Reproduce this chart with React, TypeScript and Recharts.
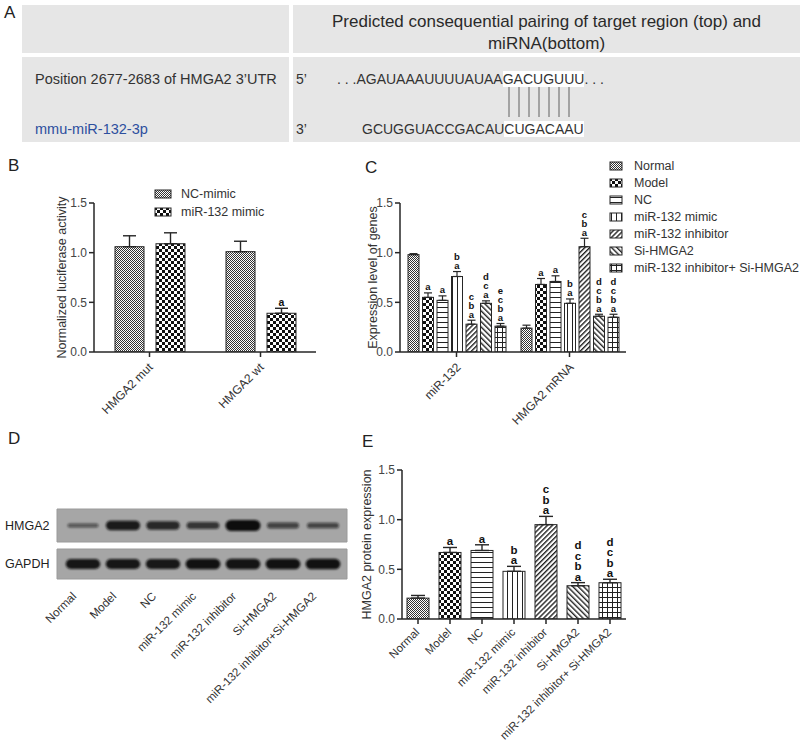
import React from 'react';
import {
  BarChart,
  Bar,
  ErrorBar,
  Cell,
  XAxis,
  YAxis,
  Label,
  Legend,
  ScatterChart,
  Scatter,
  ReferenceArea,
} from 'recharts';

const FONT = '"Liberation Sans", Arial, Helvetica, sans-serif';
const INK = '#262626';
const TXT = '#333';
const CELL_BG = '#e6e6e6';

// B: luciferase reporter
const lucCategories = ['HMGA2 mut', 'HMGA2 wt'];
const lucSeries = ['NC-mimic', 'miR-132 mimic'];
const lucValues = [
  [1.06, 1.01],
  [1.09, 0.39],
];
const lucErrors = [
  [0.11, 0.105],
  [0.11, 0.05],
];
const lucLetters = [
  ['', ''],
  ['', 'a'],
];

// C: qPCR, one series per group
const geneCategories = ['miR-132', 'HMGA2 mRNA'];
const groups = [
  'Normal',
  'Model',
  'NC',
  'miR-132 mimic',
  'miR-132 inhibitor',
  'Si-HMGA2',
  'miR-132 inhibitor+ Si-HMGA2',
];
const geneValues = [
  [0.98, 0.24],
  [0.55, 0.68],
  [0.52, 0.71],
  [0.76, 0.49],
  [0.28, 1.06],
  [0.49, 0.36],
  [0.26, 0.35],
];
const geneErrors = [
  [0.01, 0.03],
  [0.045, 0.06],
  [0.045, 0.057],
  [0.05, 0.044],
  [0.04, 0.085],
  [0.025, 0.02],
  [0.027, 0.03],
];
const geneLetters = [
  ['', ''],
  ['a', 'a'],
  ['a', 'a'],
  ['ba', 'ba'],
  ['cba', 'cba'],
  ['dca', 'dcba'],
  ['ecba', 'dcba'],
];

// D: western blot band strength (0..1)
const lanes = [
  'Normal',
  'Model',
  'NC',
  'miR-132 mimic',
  'miR-132 inhibitor',
  'Si-HMGA2',
  'miR-132 inhibitor+Si-HMGA2',
];
const hmga2Bands = [0.2, 0.85, 0.7, 0.55, 1.0, 0.4, 0.38];
const gapdhBands = [0.9, 0.9, 0.88, 0.95, 0.92, 0.95, 0.95];

// E: protein quantification
const proteinValues = [0.21, 0.67, 0.69, 0.48, 0.95, 0.335, 0.365];
const proteinErrors = [0.027, 0.05, 0.057, 0.05, 0.083, 0.031, 0.035];
const proteinLetters = ['', 'a', 'a', 'ba', 'cba', 'dcba', 'dcba'];

const GROUP_FILLS = ['pNormal', 'pModel', 'pNC', 'pMimic', 'pInhib', 'pSi', 'pCombo'];
const LUC_FILLS = ['pNormal', 'pModel'];

const lucData = lucCategories.map((name, i) => {
  const row: any = { name };
  lucSeries.forEach((_, j) => {
    row[`v${j}`] = lucValues[j][i];
    row[`e${j}`] = [0, lucErrors[j][i]];
    row[`l${j}`] = lucLetters[j][i];
  });
  return row;
});

const geneData = geneCategories.map((name, i) => {
  const row: any = { name };
  groups.forEach((_, j) => {
    row[`v${j}`] = geneValues[j][i];
    row[`e${j}`] = [0, geneErrors[j][i]];
    row[`l${j}`] = geneLetters[j][i];
  });
  return row;
});

const proteinData = groups.map((name, i) => ({
  name,
  v: proteinValues[i],
  e: [0, proteinErrors[i]],
  l: proteinLetters[i],
}));

// svg patterns shared by all charts
const Patterns = () => (
  <svg width={0} height={0} style={{ position: 'absolute' }}>
    <defs>
      <pattern id="pNormal" width={2} height={2} patternUnits="userSpaceOnUse">
        <rect width={2} height={2} fill="#fff" />
        <rect width={1} height={1} fill="#333" />
        <rect x={1} y={1} width={1} height={1} fill="#333" />
      </pattern>
      <pattern id="pModel" width={6} height={6} patternUnits="userSpaceOnUse">
        <rect width={6} height={6} fill="#fff" />
        <rect width={3} height={3} fill="#111" />
        <rect x={3} y={3} width={3} height={3} fill="#111" />
      </pattern>
      <pattern id="pNC" width={4} height={5} patternUnits="userSpaceOnUse">
        <rect width={4} height={5} fill="#fff" />
        <rect y={2} width={4} height={1} fill="#222" />
      </pattern>
      <pattern id="pMimic" width={5} height={4} patternUnits="userSpaceOnUse">
        <rect width={5} height={4} fill="#fff" />
        <rect x={2} width={1} height={4} fill="#222" />
      </pattern>
      <pattern id="pInhib" width={3.5} height={4} patternUnits="userSpaceOnUse" patternTransform="rotate(45)">
        <rect width={3.5} height={4} fill="#fff" />
        <rect width={1.4} height={4} fill="#222" />
      </pattern>
      <pattern id="pSi" width={3.8} height={4} patternUnits="userSpaceOnUse" patternTransform="rotate(-45)">
        <rect width={3.8} height={4} fill="#fff" />
        <rect width={1.4} height={4} fill="#222" />
      </pattern>
      <pattern id="pCombo" width={5} height={5} patternUnits="userSpaceOnUse">
        <rect width={5} height={5} fill="#fff" />
        <rect y={2} width={5} height={1} fill="#222" />
        <rect x={2} width={1} height={5} fill="#222" />
      </pattern>
      <filter id="blotBlur" x="-20%" y="-60%" width="140%" height="220%">
        <feGaussianBlur stdDeviation={1.1} />
      </filter>
    </defs>
  </svg>
);

// bar with outline + stacked significance letters above its error bar
const barShape = (valKey: string, errKey: string, letKey: string, size: number, step: number, lift: number) =>
  (p: any) => {
    const { x, y, width, height, fill, payload } = p;
    const v = payload[valKey];
    const err = (payload[errKey] || [0, 0])[1];
    const letters: string = payload[letKey] || '';
    const ppu = v ? height / v : 0;
    const top = y - err * ppu - lift;
    const cx = x + width / 2;
    return (
      <g>
        <rect x={x} y={y} width={width} height={height} fill={fill} stroke={INK} strokeWidth={1} />
        {letters.split('').map((c, k) => (
          <text
            key={k}
            x={cx}
            y={top - (letters.length - 1 - k) * step}
            textAnchor="middle"
            fontSize={size}
            fontWeight="bold"
            fill="#111"
            fontFamily={FONT}
          >
            {c}
          </text>
        ))}
      </g>
    );
  };

const SlantTick = (props: any) => {
  const { x, y, payload, dx = 4, dy = 9, size = 12, labels } = props;
  const px = x + dx;
  const py = y + dy;
  const text = labels ? labels[payload.value] : payload.value;
  return (
    <text
      x={px}
      y={py}
      textAnchor="end"
      transform={`rotate(-45 ${px} ${py})`}
      fontSize={size}
      fill={TXT}
      fontFamily={FONT}
    >
      {text}
    </text>
  );
};

const RowTick = (props: any) => (
  <text x={5} y={props.y} dy={4} fontSize={12.5} fill="#222" fontFamily={FONT}>
    {props.payload.value}
  </text>
);

const yTitle = (text: string, gap: number) => (p: any) => {
  const vb = p.viewBox;
  const x = vb.x + vb.width - gap;
  const y = vb.y + vb.height / 2;
  return (
    <text
      x={x}
      y={y}
      transform={`rotate(-90 ${x} ${y})`}
      textAnchor="middle"
      dominantBaseline="central"
      fontSize={12.5}
      fill={TXT}
      fontFamily={FONT}
    >
      {text}
    </text>
  );
};

const legendContent = (names: string[], fills: string[], iconW: number, rowH: number, gap: number) => () => (
  <div style={{ fontFamily: FONT }}>
    {names.map((n, i) => (
      <div key={n} style={{ display: 'flex', alignItems: 'center', height: rowH }}>
        <svg width={iconW + 2} height={10}>
          <rect x={1} y={1} width={iconW} height={8} fill={`url(#${fills[i]})`} stroke={INK} />
        </svg>
        <span style={{ marginLeft: gap, fontSize: 12.5, color: TXT, whiteSpace: 'nowrap' }}>{n}</span>
      </div>
    ))}
  </div>
);

const yTicks = [0, 0.5, 1, 1.5];
const tickStyle = { fontSize: 12, fill: '#444', fontFamily: FONT };

const LuciferaseChart = () => (
  <BarChart
    width={330}
    height={270}
    data={lucData}
    margin={{ top: 53, right: 14, bottom: 0, left: 54 }}
    barGap={12}
  >
    <XAxis
      dataKey="name"
      height={68}
      interval={0}
      tickSize={5}
      axisLine={{ stroke: INK, strokeWidth: 1.5 }}
      tickLine={{ stroke: INK, strokeWidth: 1.5 }}
      tick={<SlantTick dx={4} dy={9} />}
    />
    <YAxis
      width={40}
      domain={[0, 1.5]}
      allowDataOverflow
      ticks={yTicks}
      tickFormatter={(v: number) => v.toFixed(1)}
      tickSize={5}
      axisLine={{ stroke: INK, strokeWidth: 1.5 }}
      tickLine={{ stroke: INK, strokeWidth: 1.5 }}
      tick={tickStyle}
    >
      <Label content={yTitle('Normalized luciferase activity', 32)} />
    </YAxis>
    <Legend
      layout="vertical"
      align="center"
      verticalAlign="middle"
      wrapperStyle={{ left: 154, top: 35, width: 'auto' }}
      content={legendContent(lucSeries, LUC_FILLS, 16, 18, 9)}
    />
    {lucSeries.map((s, j) => (
      <Bar
        key={s}
        dataKey={`v${j}`}
        name={s}
        fill={`url(#${LUC_FILLS[j]})`}
        barSize={29}
        isAnimationActive={false}
        shape={barShape(`v${j}`, `e${j}`, `l${j}`, 10.5, 9, 2.5)}
      >
        <ErrorBar dataKey={`e${j}`} width={6.5} strokeWidth={1.4} stroke={INK} direction="y" isAnimationActive={false} />
      </Bar>
    ))}
  </BarChart>
);

const GeneChart = () => (
  <BarChart
    width={470}
    height={290}
    data={geneData}
    margin={{ top: 53, right: 174, bottom: 0, left: 30 }}
    barGap={3.5}
  >
    <XAxis
      dataKey="name"
      height={88}
      interval={0}
      tickSize={5}
      axisLine={{ stroke: INK, strokeWidth: 1.5 }}
      tickLine={{ stroke: INK, strokeWidth: 1.5 }}
      tick={<SlantTick dx={5} dy={9} />}
    />
    <YAxis
      width={40}
      domain={[0, 1.5]}
      allowDataOverflow
      ticks={yTicks}
      tickFormatter={(v: number) => v.toFixed(1)}
      tickSize={5}
      axisLine={{ stroke: INK, strokeWidth: 1.5 }}
      tickLine={{ stroke: INK, strokeWidth: 1.5 }}
      tick={tickStyle}
    >
      <Label content={yTitle('Expression level of genes', 27)} />
    </YAxis>
    <Legend
      layout="vertical"
      align="center"
      verticalAlign="middle"
      wrapperStyle={{ left: 279, top: 7, width: 'auto' }}
      content={legendContent(groups, GROUP_FILLS, 12, 17, 11)}
    />
    {groups.map((g, j) => (
      <Bar
        key={g}
        dataKey={`v${j}`}
        name={g}
        fill={`url(#${GROUP_FILLS[j]})`}
        barSize={11}
        isAnimationActive={false}
        shape={barShape(`v${j}`, `e${j}`, `l${j}`, 9.5, 9, 2.5)}
      >
        <ErrorBar dataKey={`e${j}`} width={4} strokeWidth={1.2} stroke={INK} direction="y" isAnimationActive={false} />
      </Bar>
    ))}
  </BarChart>
);

const BlotBand = (p: any) => {
  const { cx, cy, payload } = p;
  const s = payload.level;
  const w = 30 + 5 * s;
  const h = 2.5 + 8.5 * s;
  return (
    <rect
      x={cx - w / 2}
      y={cy - h / 2}
      width={w}
      height={h}
      rx={h / 2}
      fill="#111"
      fillOpacity={0.45 + 0.55 * s}
      filter="url(#blotBlur)"
    />
  );
};

const laneIdx = lanes.map((_, i) => i);

const BlotStrip = ({ row, levels, height, top, bottom, showLanes }: any) => {
  const data = levels.map((level: number, i: number) => ({ lane: i, row, level }));
  return (
    <ScatterChart width={360} height={height} margin={{ top, right: 13, bottom, left: 0 }}>
      <XAxis
        type="number"
        dataKey="lane"
        domain={[-0.65, 6.6]}
        allowDataOverflow
        ticks={laneIdx}
        interval={0}
        hide={!showLanes}
        axisLine={false}
        tickLine={false}
        tickSize={0}
        tickMargin={0}
        height={showLanes ? 161 : 0}
        tick={<SlantTick labels={lanes} dx={-6} dy={18} size={11.7} />}
      />
      <YAxis
        type="category"
        dataKey="row"
        allowDuplicatedCategory={false}
        width={57}
        axisLine={false}
        tickLine={false}
        tick={<RowTick />}
      />
      <ReferenceArea x1={-0.65} x2={6.6} fill="#a6a6a6" fillOpacity={1} stroke="#9a9a9a" />
      <Scatter data={data} shape={BlotBand} isAnimationActive={false} />
    </ScatterChart>
  );
};

const ProteinChart = () => (
  <BarChart
    width={330}
    height={320}
    data={proteinData}
    margin={{ top: 50, right: 34, bottom: 0, left: 32 }}
  >
    <XAxis
      dataKey="name"
      height={121}
      interval={0}
      tickSize={5}
      axisLine={{ stroke: INK, strokeWidth: 1.5 }}
      tickLine={{ stroke: INK, strokeWidth: 1.5 }}
      tick={<SlantTick dx={2} dy={7} size={11.5} />}
    />
    <YAxis
      width={40}
      domain={[0, 1.5]}
      allowDataOverflow
      ticks={yTicks}
      tickFormatter={(v: number) => v.toFixed(1)}
      tickSize={5}
      axisLine={{ stroke: INK, strokeWidth: 1.5 }}
      tickLine={{ stroke: INK, strokeWidth: 1.5 }}
      tick={tickStyle}
    >
      <Label content={yTitle('HMGA2 protein expression', 35)} />
    </YAxis>
    <Bar
      dataKey="v"
      barSize={22}
      isAnimationActive={false}
      shape={barShape('v', 'e', 'l', 11.5, 10.5, 2)}
    >
      {proteinData.map((d, i) => (
        <Cell key={d.name} fill={`url(#${GROUP_FILLS[i]})`} />
      ))}
      <ErrorBar dataKey="e" width={7} strokeWidth={1.4} stroke={INK} direction="y" isAnimationActive={false} />
    </Bar>
  </BarChart>
);

const abs = (left: number, top: number, extra: any = {}) => ({ position: 'absolute' as const, left, top, ...extra });

const Txt = ({ left, cy, size = 14.5, color = TXT, children }: any) => (
  <div style={abs(left, cy - 9, { fontSize: size, lineHeight: '18px', color, whiteSpace: 'nowrap' })}>{children}</div>
);

const hl = { background: '#fff' };

const PanelA = () => (
  <>
    <div style={abs(22, 5, { width: 267, height: 48, background: CELL_BG })} />
    <div
      style={abs(293, 5, {
        width: 507,
        height: 48,
        background: CELL_BG,
        textAlign: 'center',
        fontSize: 17,
        lineHeight: '22px',
        paddingTop: 6,
        boxSizing: 'border-box',
        color: '#2a2a2a',
      })}
    >
      Predicted consequential pairing of target region (top) and
      <br />
      miRNA(bottom)
    </div>
    <div style={abs(22, 57, { width: 267, height: 85, background: CELL_BG })} />
    <div style={abs(293, 57, { width: 507, height: 85, background: CELL_BG })} />
    <Txt left={35} cy={79}>Position 2677-2683 of HMGA2 3’UTR</Txt>
    <Txt left={35} cy={129} color="#2d4f9e">mmu-miR-132-3p</Txt>
    <Txt left={296} cy={79} size={14}>5’</Txt>
    <Txt left={337} cy={79} size={14}>
      . . .AGAUAAAUUUUAUAA<span style={hl}>GACUGUUU</span>. . .
    </Txt>
    <Txt left={296} cy={129} size={14}>3’</Txt>
    <Txt left={362} cy={129} size={14}>
      GCUGGUACCGACAU<span style={hl}>CUGACAAU</span>
    </Txt>
    <svg style={abs(500, 85)} width={80} height={36}>
      {[0, 1, 2, 3, 4, 5, 6].map((k) => (
        <line key={k} x1={9 + k * 10} x2={9 + k * 10} y1={2} y2={32} stroke="#8c8c8c" strokeWidth={1.5} />
      ))}
    </svg>
  </>
);

const PanelLetter = ({ left, top, children }: any) => (
  <div style={abs(left, top, { fontSize: 17, lineHeight: '18px', color: '#222' })}>{children}</div>
);

export default function App() {
  return (
    <div
      style={{
        position: 'absolute',
        left: 0,
        top: 0,
        width: 800,
        height: 740,
        overflow: 'hidden',
        background: '#fff',
        fontFamily: FONT,
        color: TXT,
      }}
    >
      <Patterns />
      <PanelA />
      <PanelLetter left={4} top={4}>A</PanelLetter>
      <PanelLetter left={8} top={157}>B</PanelLetter>
      <PanelLetter left={365} top={159}>C</PanelLetter>
      <PanelLetter left={8} top={430}>D</PanelLetter>
      <PanelLetter left={362} top={433}>E</PanelLetter>

      <div style={abs(0, 150)}>
        <LuciferaseChart />
      </div>
      <div style={abs(330, 150)}>
        <GeneChart />
      </div>
      <div style={abs(0, 500)}>
        <BlotStrip row="HMGA2" levels={hmga2Bands} height={50} top={9} bottom={8} showLanes={false} />
      </div>
      <div style={abs(0, 545)}>
        <BlotStrip row="GAPDH" levels={gapdhBands} height={195} top={4} bottom={0} showLanes />
      </div>
      <div style={abs(330, 420)}>
        <ProteinChart />
      </div>
    </div>
  );
}
